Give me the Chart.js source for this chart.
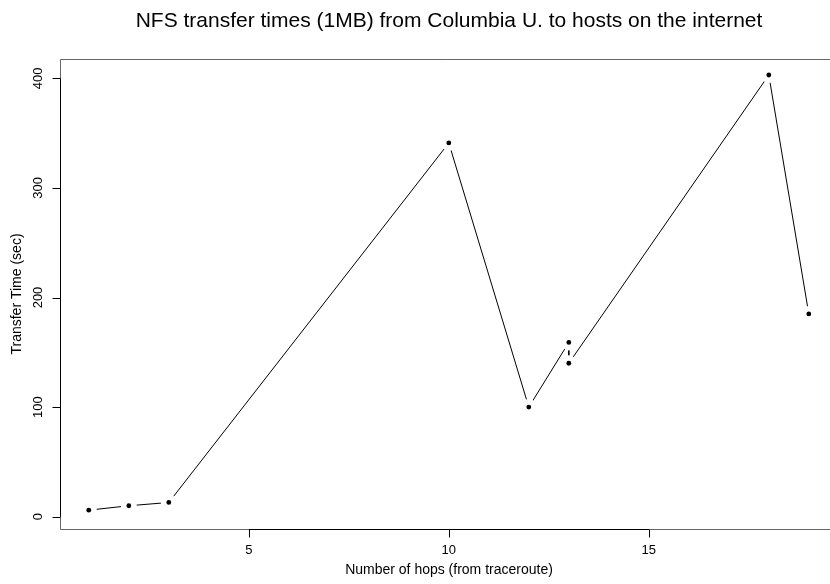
<!DOCTYPE html>
<html>
<head>
<meta charset="utf-8">
<script src="https://cdn.jsdelivr.net/npm/chart.js@4.4.0/dist/chart.umd.min.js"></script>
<style>
  html, body { margin: 0; padding: 0; background: #fff; overflow: hidden; }
  #wrap { width: 830px; height: 584px; }
</style>
</head>
<body>
<div id="wrap"><canvas id="chart" width="830" height="584"></canvas></div>
<script>
// hops vs transfer time
const hops = [1, 2, 3, 10, 12, 13, 13, 18, 19];
const times = [6, 10, 13, 341, 100, 159, 140, 403, 185];
const xTicks = [5, 10, 15];
const yTicks = [0, 100, 200, 300, 400];

const points = hops.map((h, i) => ({ x: h, y: times[i] }));
const FONT = '"Liberation Sans", Arial, sans-serif';

// R-style box, axes and labels
const rAxes = {
    id: 'rAxes',
    afterDraw(chart) {
        const ctx = chart.ctx;
        const area = chart.chartArea;
        const xs = chart.scales.x;
        const ys = chart.scales.y;
        // plot region centre, box runs past the window on the right
        const midX = (area.left + 838) / 2;
        ctx.save();

        ctx.strokeStyle = '#666';
        ctx.lineWidth = 1;
        ctx.beginPath();
        ctx.moveTo(area.right + 20, area.top + 0.5);
        ctx.lineTo(area.left + 0.5, area.top + 0.5);
        ctx.lineTo(area.left + 0.5, area.bottom + 0.5);
        ctx.lineTo(area.right + 20, area.bottom + 0.5);
        ctx.stroke();

        ctx.strokeStyle = '#000';
        ctx.fillStyle = '#000';
        ctx.font = '13px ' + FONT;

        // x axis
        const xb = area.bottom + 0.5;
        ctx.beginPath();
        ctx.moveTo(xs.getPixelForValue(xTicks[0]), xb);
        ctx.lineTo(xs.getPixelForValue(xTicks[xTicks.length - 1]), xb);
        xTicks.forEach(t => {
            const px = Math.round(xs.getPixelForValue(t)) + 0.5;
            ctx.moveTo(px, xb);
            ctx.lineTo(px, xb + 8);
        });
        ctx.stroke();
        ctx.textAlign = 'center';
        ctx.textBaseline = 'middle';
        xTicks.forEach(t => {
            ctx.fillText(String(t), xs.getPixelForValue(t), xb + 21);
        });

        // y axis
        const yl = area.left + 0.5;
        ctx.beginPath();
        ctx.moveTo(yl, ys.getPixelForValue(yTicks[0]));
        ctx.lineTo(yl, ys.getPixelForValue(yTicks[yTicks.length - 1]));
        yTicks.forEach(t => {
            const py = Math.round(ys.getPixelForValue(t)) + 0.5;
            ctx.moveTo(yl, py);
            ctx.lineTo(yl - 8, py);
        });
        ctx.stroke();
        yTicks.forEach(t => {
            ctx.save();
            ctx.translate(area.left - 22, ys.getPixelForValue(t));
            ctx.rotate(-Math.PI / 2);
            ctx.fillText(String(t), 0, 0);
            ctx.restore();
        });

        // axis titles
        ctx.font = '14px ' + FONT;
        ctx.fillText('Number of hops (from traceroute)', midX, 570);
        ctx.save();
        ctx.translate(17, (area.top + area.bottom) / 2);
        ctx.rotate(-Math.PI / 2);
        ctx.fillText('Transfer Time (sec)', 0, 0);
        ctx.restore();

        // main title
        ctx.font = '21px ' + FONT;
        ctx.fillText('NFS transfer times (1MB) from Columbia U. to hosts on the internet', midX, 21);

        ctx.restore();
    }
};

new Chart(document.getElementById('chart').getContext('2d'), {
    type: 'scatter',
    data: {
        datasets: [{
            // black dots on top
            data: points,
            showLine: false,
            pointRadius: 2.4,
            pointHoverRadius: 2.4,
            pointBackgroundColor: '#000',
            pointBorderWidth: 0,
            order: 0
        }, {
            // connecting line, white disks leave the type="b" gaps
            data: points,
            showLine: true,
            borderColor: '#000',
            borderWidth: 1,
            tension: 0,
            fill: false,
            pointRadius: 8,
            pointHoverRadius: 8,
            pointBackgroundColor: '#fff',
            pointBorderWidth: 0,
            order: 1
        }]
    },
    options: {
        responsive: false,
        animation: false,
        devicePixelRatio: 1,
        layout: {
            autoPadding: false,
            padding: { left: 60, top: 59, right: 0, bottom: 55 }
        },
        plugins: {
            legend: { display: false },
            tooltip: { enabled: false },
            title: { display: false }
        },
        scales: {
            x: {
                type: 'linear',
                display: false,
                min: 0.28,
                max: 19.53
            },
            y: {
                type: 'linear',
                display: false,
                min: -11.2,
                max: 417.6
            }
        }
    },
    plugins: [rAxes]
});
</script>
</body>
</html>
